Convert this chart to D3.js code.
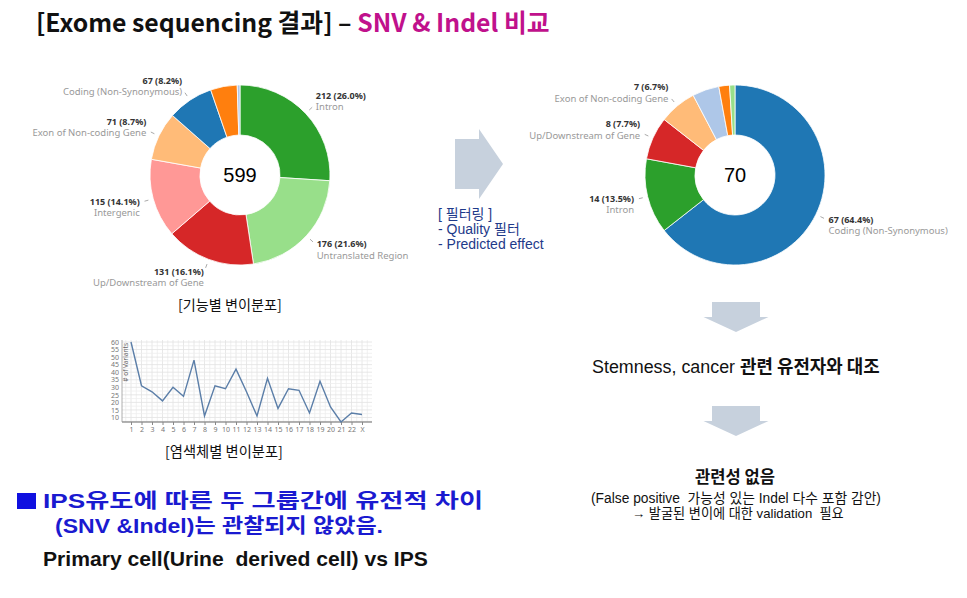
<!DOCTYPE html>
<html><head><meta charset="utf-8">
<script src="https://cdn.jsdelivr.net/npm/d3@7"></script>
<style>body{margin:0;background:#fff} text{white-space:pre}</style>
</head><body>
<svg id="c" width="967" height="598"></svg>
<script>
// ---------- DATA ----------
const leftCategories = ["Intron","Untranslated Region","Up/Downstream of Gene","Intergenic","Exon of Non-coding Gene","Coding (Non-Synonymous)","Other A","Other B"];
const leftValues = [212,176,131,115,71,67,39,4];
const leftCenterLabel = "599";
const leftCaption = "[기능별 변이분포]";

const rightCategories = ["Coding (Non-Synonymous)","Intron","Up/Downstream of Gene","Exon of Non-coding Gene","Other B","Other A","Other C"];
const rightValues = [67,14,8,7,5,2,1];
const rightCenterLabel = "70";

const chromosomes = ["1","2","3","4","5","6","7","8","9","10","11","12","13","14","15","16","17","18","19","20","21","22","X"];
const chrVariants = [60,31,27,21,30,24,48,11,31,29,42,27,11,36,16,29,28,13,34,17,7,13,12];
const chrYTicks = [10,15,20,25,30,35,40,45,50,55,60];
const chrYLabel = "# of Variants";
const chrCaption = "[염색체별 변이분포]";

const filterLines = ["[ 필터링 ]","- Quality 필터","- Predicted effect"];

// ---------- STYLE ----------
const palette = {
  "Intron":"#2ca02c","Untranslated Region":"#98df8a","Up/Downstream of Gene":"#d62728",
  "Intergenic":"#ff9896","Exon of Non-coding Gene":"#ffbb78","Coding (Non-Synonymous)":"#1f77b4",
  "Other A":"#ff7f0e","Other B":"#aec7e8","Other C":"#98df8a"
};
const arrowColor = "#c7d1dd";
const KR = "'Noto Sans CJK KR', sans-serif";
const AR = "'Liberation Sans', 'Noto Sans CJK KR', sans-serif";

const svg = d3.select("#c");
svg.append("rect").attr("width",967).attr("height",598).attr("fill","#fff");

function fitText(sel, w){
  const node = sel.node();
  const cur = node.getComputedTextLength();
  const fs = parseFloat(sel.attr("font-size"));
  if (cur > 0) sel.attr("font-size", fs * w / cur);
  return sel;
}

// ---------- TITLE ----------
const title = svg.append("text").attr("x",36).attr("y",32)
  .attr("font-family",KR).attr("font-weight","bold").attr("font-size",22);
title.append("tspan").attr("fill","#111").text("[Exome sequencing 결과] – ");
title.append("tspan").attr("fill","#c0118c").text("SNV & Indel 비교");
fitText(title, 514);

// ---------- DONUTS ----------
function drawDonut(cats, vals, cx, cy, centerLabel){
  const g = svg.append("g").attr("transform",`translate(${cx},${cy})`);
  const data = cats.map((c,i)=>({cat:c, v:vals[i]}));
  const total = d3.sum(vals);
  const pie = d3.pie().sort(null).value(d=>d.v);
  const arc = d3.arc().innerRadius(40).outerRadius(90);
  const arcs = pie(data);
  g.selectAll("path").data(arcs).join("path")
    .attr("d",arc).attr("fill",d=>palette[d.data.cat])
    .attr("stroke","#fff").attr("stroke-width",0.8);
  g.append("text").attr("x",0).attr("y",7).attr("text-anchor","middle")
    .attr("font-family",AR).attr("font-size",20).attr("fill","#000").text(centerLabel);
  const R = 104;
  arcs.filter(d=>d.data.v/total >= 0.06).forEach(d=>{
    const a = (d.startAngle + d.endAngle)/2;
    const s = Math.sin(a), c = Math.cos(a);
    const px = R*s, py = -R*c;
    g.append("line").attr("x1",95*s).attr("y1",-95*c).attr("x2",99*s).attr("y2",-99*c)
      .attr("stroke","#aaa").attr("stroke-width",1);
    const anchor = s >= 0 ? "start" : "end";
    const dy = c > 0 ? -5 : 2;
    g.append("text").attr("x",px).attr("y",py+dy).attr("text-anchor",anchor)
      .attr("font-family","'Noto Sans', sans-serif").attr("font-size",9).attr("font-weight","bold")
      .attr("fill","#333").text(`${d.data.v} (${(d.data.v/total*100).toFixed(1)}%)`);
    g.append("text").attr("x",px).attr("y",py+dy+11.5).attr("text-anchor",anchor)
      .attr("font-family","'Noto Sans', sans-serif").attr("font-size",9.5)
      .attr("fill","#999").text(d.data.cat);
  });
}
drawDonut(leftCategories,leftValues,240,175,leftCenterLabel);
drawDonut(rightCategories,rightValues,735,175,rightCenterLabel);

fitText(svg.append("text").attr("x",178).attr("y",310).attr("font-family",KR)
  .attr("font-size",13).attr("fill","#111").text(leftCaption),104);

// ---------- ARROWS ----------
function rightArrow(x0,x1,x2,cy,shaftH,headH){
  const p = [[x0,cy-shaftH/2],[x1,cy-shaftH/2],[x1,cy-headH/2],[x2,cy],[x1,cy+headH/2],[x1,cy+shaftH/2],[x0,cy+shaftH/2]];
  svg.append("path").attr("d",d3.line()(p)+"Z").attr("fill",arrowColor);
}
function downArrow(cx,y0,y1,y2,shaftW,headW){
  const p = [[cx-shaftW/2,y0],[cx+shaftW/2,y0],[cx+shaftW/2,y1],[cx+headW/2,y1],[cx,y2],[cx-headW/2,y1],[cx-shaftW/2,y1]];
  svg.append("path").attr("d",d3.line()(p)+"Z").attr("fill",arrowColor);
}
rightArrow(455,479,503,164,50,70);
downArrow(736,302,317,332,48,65);
downArrow(736,406,421,436,48,65);

// filter text
filterLines.forEach((t,i)=>{
  svg.append("text").attr("x",438).attr("y",219+i*15).attr("font-family",AR)
    .attr("font-size",14).attr("fill","#1e3a8a").text(t);
});

// ---------- LINE CHART ----------
const x = d3.scalePoint().domain(chromosomes).range([131,362]);
const y = d3.scaleLinear().domain([7,60]).range([422,342]);
const xi = d3.scaleLinear().domain([0,chromosomes.length-1]).range([131,362]);
const lc = svg.append("g");
for(let i=-1.5;i<=23.5;i+=0.5){
  const xx = xi(i);
  if(xx<122||xx>372) continue;
  lc.append("line").attr("x1",xx).attr("x2",xx).attr("y1",340).attr("y2",422)
    .attr("stroke", Number.isInteger(i)?"#e2e2e2":"#eeeeee").attr("stroke-width",0.8);
}
for(let v=7.5; v<=60.5; v+=2.5){
  const yy = y(v);
  lc.append("line").attr("x1",122).attr("x2",372).attr("y1",yy).attr("y2",yy)
    .attr("stroke", v%5===0?"#e2e2e2":"#eeeeee").attr("stroke-width",0.8);
}
lc.append("line").attr("x1",122).attr("x2",372).attr("y1",422).attr("y2",422).attr("stroke","#666").attr("stroke-width",1);
lc.append("line").attr("x1",122).attr("x2",122).attr("y1",340).attr("y2",422).attr("stroke","#999").attr("stroke-width",0.8);
const xa = lc.append("g").attr("transform","translate(0,422)").call(d3.axisBottom(x).tickSize(3).tickPadding(2));
xa.select(".domain").remove();
xa.selectAll("line").attr("stroke","#888");
xa.selectAll("text").attr("font-family","'Noto Sans', sans-serif").attr("font-size",7).attr("fill","#777");
const ya = lc.append("g").attr("transform","translate(121,0)").call(d3.axisLeft(y).tickValues(chrYTicks).tickSize(0).tickPadding(2));
ya.select(".domain").remove();
ya.selectAll("text").attr("font-family","'Noto Sans', sans-serif").attr("font-size",7).attr("fill","#777");
lc.append("text").attr("transform","translate(128,343) rotate(-90)").attr("text-anchor","end")
  .attr("font-family","'Noto Sans', sans-serif").attr("font-size",6.5).attr("fill","#666").text(chrYLabel);
lc.append("path").datum(chrVariants)
  .attr("d",d3.line().x((d,i)=>x(chromosomes[i])).y(d=>y(d)))
  .attr("fill","none").attr("stroke","#5b7ea8").attr("stroke-width",1.4);
fitText(svg.append("text").attr("x",165).attr("y",457).attr("font-family",KR)
  .attr("font-size",13).attr("fill","#111").text(chrCaption),118);

// ---------- RIGHT TEXTS ----------
const st = svg.append("text").attr("x",592).attr("y",373).attr("font-size",16).attr("fill","#111");
st.append("tspan").attr("font-family",AR).text("Stemness, cancer ");
st.append("tspan").attr("font-family",KR).attr("font-weight","bold").text("관련 유전자와 대조");
fitText(st,288);

fitText(svg.append("text").attr("x",695).attr("y",483).attr("font-family",KR).attr("font-weight","bold")
  .attr("font-size",15).attr("fill","#111").text("관련성 없음"),80);
fitText(svg.append("text").attr("x",591).attr("y",503).attr("font-family",AR)
  .attr("font-size",13).attr("fill","#111").text("(False positive  가능성 있는 Indel 다수 포함 감안)"),290);
const vt = svg.append("text").attr("x",632).attr("y",518).attr("font-family",AR)
  .attr("font-size",13).attr("fill","#111");
vt.append("tspan").attr("font-weight","bold").text("→ ");
vt.append("tspan").text("발굴된 변이에 대한 validation  필요");
fitText(vt,212);

// ---------- BOTTOM LEFT ----------
svg.append("rect").attr("x",17).attr("y",493).attr("width",19).attr("height",16).attr("fill","#1010e0");
svg.append("text").attr("x",43).attr("y",508).attr("font-family",AR).attr("font-weight","bold")
  .attr("font-size",20).attr("textLength",440).attr("lengthAdjust","spacingAndGlyphs")
  .attr("fill","#1a1ad0").text("IPS유도에 따른 두 그룹간에 유전적 차이");
svg.append("text").attr("x",55).attr("y",533).attr("font-family",AR).attr("font-weight","bold")
  .attr("font-size",20).attr("textLength",328).attr("lengthAdjust","spacingAndGlyphs")
  .attr("fill","#1a1ad0").text("(SNV &Indel)는 관찰되지 않았음.");
fitText(svg.append("text").attr("x",43).attr("y",566).attr("font-family",AR).attr("font-weight","bold")
  .attr("font-size",17).attr("fill","#111").text("Primary cell(Urine  derived cell) vs IPS"),385);
</script>
</body></html>
